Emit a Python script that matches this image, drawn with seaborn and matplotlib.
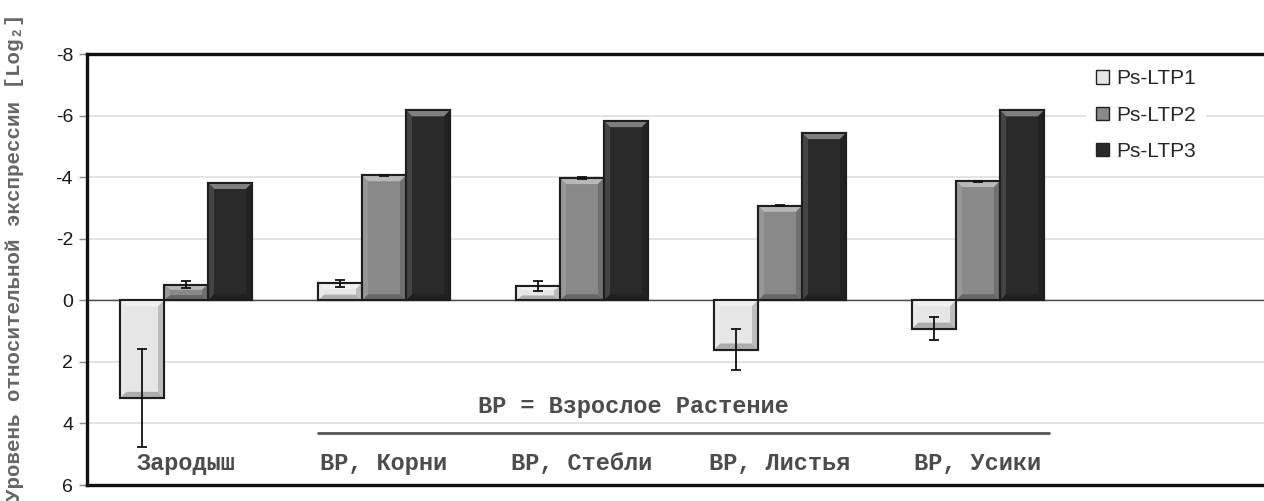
import numpy as np
import pandas as pd
import matplotlib
matplotlib.use("Agg")
import matplotlib.pyplot as plt
from matplotlib.patches import Polygon, Rectangle
from matplotlib.colors import to_rgb
import seaborn as sns

# Expression levels (log2, relative); negative = higher expression
tissues = ["Зародыш", "ВР, Корни", "ВР, Стебли", "ВР, Листья", "ВР, Усики"]
genes = ["Ps-LTP1", "Ps-LTP2", "Ps-LTP3"]
ltp1 = [3.17, -0.55, -0.47, 1.60, 0.92]
ltp2 = [-0.51, -4.06, -3.97, -3.07, -3.87]
ltp3 = [-3.81, -6.17, -5.82, -5.43, -6.17]
err1 = [1.60, 0.12, 0.16, 0.67, 0.38]
err2 = [0.12, 0.02, 0.03, 0.02, 0.02]
err3 = [0.0, 0.0, 0.0, 0.0, 0.0]
yticks = [-8, -6, -4, -2, 0, 2, 4, 6]
group_note = "ВР = Взрослое Растение"
ylabel = "Уровень относительной экспрессии [Log₂]"

colors = ["#e6e6e6", "#898989", "#2a2a2a"]

df = pd.DataFrame({
    "tissue": tissues * 3,
    "gene": sum([[g] * len(tissues) for g in genes], []),
    "value": ltp1 + ltp2 + ltp3,
})
errs = {genes[0]: err1, genes[1]: err2, genes[2]: err3}

sns.set_theme(style="white")
plt.rcParams["font.family"] = ["Liberation Sans", "DejaVu Sans"]
plt.rcParams["axes.unicode_minus"] = False

W, H = 1264, 501
fig = plt.figure(figsize=(W / 100, H / 100), dpi=100)
# six category slots, the last one is left empty (extends past the right edge)
ax = fig.add_axes([87 / W, 1 - 485 / H, 1188 / W, 431 / H])

sns.barplot(data=df, x="tissue", y="value", hue="gene", order=tissues,
            hue_order=genes, palette=colors, width=0.667, gap=0,
            errorbar=None, edgecolor="#1e1e1e", linewidth=1.5,
            saturation=1, ax=ax, zorder=3)

ax.set_ylim(6, -8)
ax.set_xlim(-0.5, 5.5)
ax.set_yticks(yticks)
ax.set_yticklabels([str(t) for t in yticks])
ax.set_xticks([])
ax.set_xlabel("")
ax.set_ylabel("")
ax.grid(axis="y", color="#e2e2e2", lw=1.3, zorder=0)
ax.set_axisbelow(True)
ax.axhline(0, color="#4a4a4a", lw=1.0, zorder=2)
ax.tick_params(axis="y", left=True, length=6, width=1, color="#888888",
               labelsize=14, labelcolor="#1a1a1a", pad=4)
for s in ["left", "top", "bottom"]:
    ax.spines[s].set_color("#111111")
    ax.spines[s].set_linewidth(2.4)
ax.spines["right"].set_visible(False)


def mix(c, t, amt):
    c = np.array(to_rgb(c)); t = np.array(to_rgb(t))
    return tuple(c + (t - c) * amt)


# bevelled look on every bar
px_x = 1188 / 6.0
px_y = 431 / 14.0
for cont, gene, col in zip(ax.containers, genes, colors):
    xs = []
    for bar in cont:
        x0 = bar.get_x(); x1 = x0 + bar.get_width()
        ya = bar.get_y(); yb = ya + bar.get_height()
        ytop, ybot = min(ya, yb), max(ya, yb)
        xs.append((x0 + x1) / 2)
        h = ybot - ytop
        dx = 6 / px_x
        dy = min(6 / px_y, h / 3)
        dx2 = min(dx, dy * px_y / px_x) if h < 12 / px_y else dx
        polys = [
            ([(x0, ytop), (x1, ytop), (x1 - dx2, ytop + dy), (x0 + dx2, ytop + dy)], mix(col, "white", 0.40)),
            ([(x0, ybot), (x1, ybot), (x1 - dx2, ybot - dy), (x0 + dx2, ybot - dy)], mix(col, "black", 0.25)),
            ([(x0, ytop), (x0 + dx2, ytop + dy), (x0 + dx2, ybot - dy), (x0, ybot)], mix(col, "white", 0.12)),
            ([(x1, ytop), (x1 - dx2, ytop + dy), (x1 - dx2, ybot - dy), (x1, ybot)], mix(col, "black", 0.18)),
        ]
        for pts, c in polys:
            ax.add_patch(Polygon(pts, closed=True, facecolor=c, edgecolor="none", zorder=3.1))
        ax.add_patch(Rectangle((x0, ytop), x1 - x0, h, facecolor="none",
                               edgecolor="#1e1e1e", lw=1.5, zorder=3.2))
    vals = list(cont.datavalues)
    e = errs[gene]
    if any(v > 0 for v in e):
        ax.errorbar(xs, vals, yerr=e, fmt="none", ecolor="#111111",
                    elinewidth=1.3, capsize=3.5, capthick=1.3, zorder=4)

mono = ["Liberation Mono", "DejaVu Sans Mono"]
for i, t in enumerate(tissues):
    ax.text(i, 5.3, t, ha="center", va="center", fontsize=17,
            fontweight="bold", family=mono, color="#4c4c4c", zorder=5)

ax.text(2.26, 3.44, group_note, ha="center", va="center", fontsize=17,
        fontweight="bold", family=mono, color="#4c4c4c", zorder=5)
ax.plot([0.667, 4.36], [4.32, 4.32], color="#555555", lw=2.0, zorder=5)

fig.text(15 / W, 1 - 257 / H, ylabel, rotation=90, ha="center", va="center",
         fontsize=15, fontweight="bold", family=mono, color="#666666")

leg = ax.legend(loc="upper left", bbox_to_anchor=((1086 - 87) / 1188, 1 - 5 / 431),
                frameon=True, facecolor="white", edgecolor="none", framealpha=1,
                fontsize=15, handlelength=0.6, handleheight=0.6,
                handletextpad=0.35, labelspacing=0.82, borderpad=0.5,
                borderaxespad=0)
for hnd in leg.legend_handles:
    hnd.set_edgecolor("#222222")
    hnd.set_linewidth(1.0)
leg.set_zorder(6)

fig.savefig("out.png", dpi=100)
